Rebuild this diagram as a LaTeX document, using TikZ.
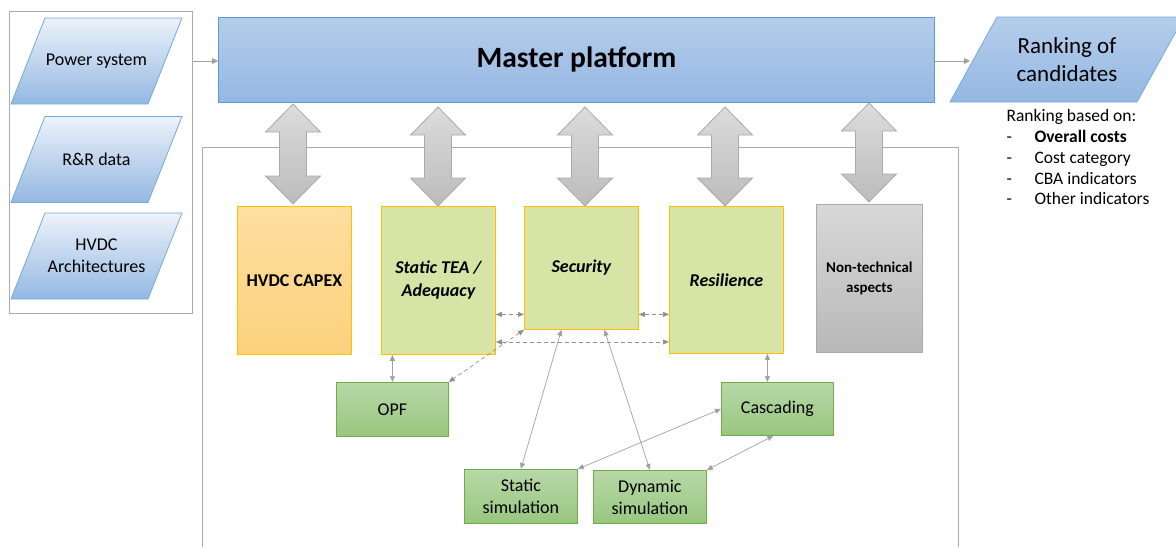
\documentclass[tikz,border=0pt]{standalone}
\usepackage{fontspec}
\setmainfont{Carlito}
\usetikzlibrary{arrows.meta,positioning}

\definecolor{frameline}{RGB}{170,170,170}
\definecolor{blueline}{RGB}{91,155,213}
\definecolor{bluetop}{RGB}{181,205,235}
\definecolor{bluebot}{RGB}{148,184,226}
\definecolor{inputtop}{RGB}{236,242,250}
\definecolor{orangetop}{RGB}{254,223,160}
\definecolor{orangebot}{RGB}{252,209,124}
\definecolor{goldline}{RGB}{255,192,0}
\definecolor{olivefill}{RGB}{216,228,165}
\definecolor{greytop}{RGB}{216,216,216}
\definecolor{greybot}{RGB}{184,184,184}
\definecolor{greentop}{RGB}{184,216,168}
\definecolor{greenbot}{RGB}{152,198,126}
\definecolor{greenline}{RGB}{112,173,71}
\definecolor{linkgrey}{RGB}{160,160,160}

\begin{document}
\begin{tikzpicture}[x=1pt,y=-1pt,
  frame/.style={draw=frameline,line width=0.8pt},
  inshape/.style={draw=blueline!85,line width=0.8pt,top color=inputtop,bottom color=bluebot},
  intext/.style={align=center,font=\fontsize{18}{22}\selectfont},
  masterbox/.style={draw=blueline,line width=0.8pt,top color=bluetop,bottom color=bluebot,
    minimum width=716pt,minimum height=85pt,anchor=north west,font=\fontsize{29.5}{32}\selectfont\bfseries},
  module/.style={line width=0.8pt,minimum width=114pt,anchor=north west,align=center,
    font=\fontsize{18}{23}\selectfont\bfseries\itshape},
  costbox/.style={module,draw=goldline,top color=orangetop,bottom color=orangebot,font=\fontsize{18}{23}\selectfont\bfseries},
  techbox/.style={module,draw=goldline,fill=olivefill},
  otherbox/.style={module,draw=frameline,top color=greytop,bottom color=greybot,minimum width=106pt,
    font=\fontsize{15}{20}\selectfont\bfseries},
  toolbox/.style={draw=greenline,line width=0.8pt,top color=greentop,bottom color=greenbot,
    minimum width=113pt,minimum height=54pt,anchor=north west,align=center,font=\fontsize{18}{22}\selectfont},
  bigarrow/.style={draw=frameline,line width=0.8pt,top color=greytop!90,bottom color=greybot!95},
  flow/.style={draw=linkgrey,line width=0.8pt,-{Triangle[length=6pt,width=6pt]}},
  link/.style={draw=linkgrey,line width=0.7pt,{Triangle[length=6pt,width=5pt]}-{Triangle[length=6pt,width=5pt]}},
  dashlink/.style={link,draw=linkgrey!90!black,dashed,dash pattern=on 4pt off 3pt}]
\useasboundingbox (0,0) rectangle (1176,547);

\def\inpara#1{(11,#1+43) -- (45,#1-43) -- (182,#1-43) -- (148,#1+43) -- cycle}
\def\dblarrow#1#2#3{(#1,#2) -- (#1+27.5,#2+28) -- (#1+13.5,#2+28) -- (#1+13.5,#3-28)
  -- (#1+27.5,#3-28) -- (#1,#3) -- (#1-27.5,#3-28) -- (#1-13.5,#3-28) -- (#1-13.5,#2+28)
  -- (#1-27.5,#2+28) -- cycle}

% inputs
\node[frame,minimum width=183pt,minimum height=302pt,anchor=north west] (inputs) at (9,11) {};
\shade[inshape] \inpara{61};
\shade[inshape] \inpara{159.5};
\shade[inshape] \inpara{256};
\node[intext] (power) at (96.5,61) {Power system};
\node[intext] (rrdata) at (96.5,159.5) {R\&R data};
\node[intext] (hvdc) at (96.5,256) {HVDC\\Architectures};

% master platform and ranking
\node[masterbox] (master) at (218,17) {Master platform};
\shade[inshape,top color=bluetop] (950,102) -- (997,17) -- (1184,17) -- (1137,102) -- cycle;
\node[intext,font=\fontsize{23}{28}\selectfont] (rank) at (1067,59.5) {Ranking of\\candidates};
\coordinate (rankin) at (970,61);
\node[anchor=north west,align=left,font=\fontsize{17.5}{20.8}\selectfont] (basis) at (1003,106)
  {Ranking based on:\\
   \makebox[28pt][l]{-}\textbf{Overall costs}\\
   \makebox[28pt][l]{-}Cost category\\
   \makebox[28pt][l]{-}CBA indicators\\
   \makebox[28pt][l]{-}Other indicators};

\draw[flow] (inputs.east |- rankin) -- (master.west |- rankin);
\draw[flow] (master.east |- rankin) -- (rankin);

% assessment modules
\draw[frame] (202,547) -- (202,147) -- (958,147) -- (958,547);
\foreach \ax/\at/\ab in {293/104/204, 438/107/206, 585/107/206, 725/107/206, 869/103/202}
  \shade[bigarrow] \dblarrow{\ax}{\at}{\ab};

\node[costbox,minimum height=148pt] (capex) at (237,206) {HVDC CAPEX};
\node[techbox,minimum height=148pt] (tea) at (381,206) {Static TEA /\\Adequacy};
\node[techbox,minimum height=123pt] (sec) at (524,206) {Security};
\node[techbox,minimum height=147pt] (res) at (669,206) {Resilience};
\node[otherbox,minimum height=148pt] (nontech) at (816,204) {Non-technical\\aspects};

\node[toolbox,minimum width=112pt] (opf) at (336,382) {OPF};
\node[toolbox,minimum width=112pt,minimum height=53pt] (casc) at (721,382) {Cascading};
\node[toolbox] (ssim) at (464,469) {Static\\simulation};
\node[toolbox,minimum height=53pt] (dsim) at (593,470) {Dynamic\\simulation};

% links
\draw[dashlink] (sec.219 -| tea.east) -- (sec.219);
\draw[dashlink] (sec.-39) -- (sec.-39 -| res.west);
\draw[dashlink] (tea.-47.4) -- (tea.-47.4 -| res.west);
\draw[dashlink] (sec.south west) -- (opf.north east);
\draw[link] (tea.south -| opf.north) -- (opf.north);
\draw[link] ([xshift=-10pt]casc.north |- res.south) -- ([xshift=-10pt]casc.north);
\draw[link] ([xshift=-20pt]sec.south) -- (ssim.north);
\draw[link] ([xshift=23pt]sec.south) -- (dsim.north);
\draw[link] (casc.west) -- (ssim.north east);
\draw[link] ([xshift=-4pt]casc.south) -- (dsim.north east);
\end{tikzpicture}
\end{document}
